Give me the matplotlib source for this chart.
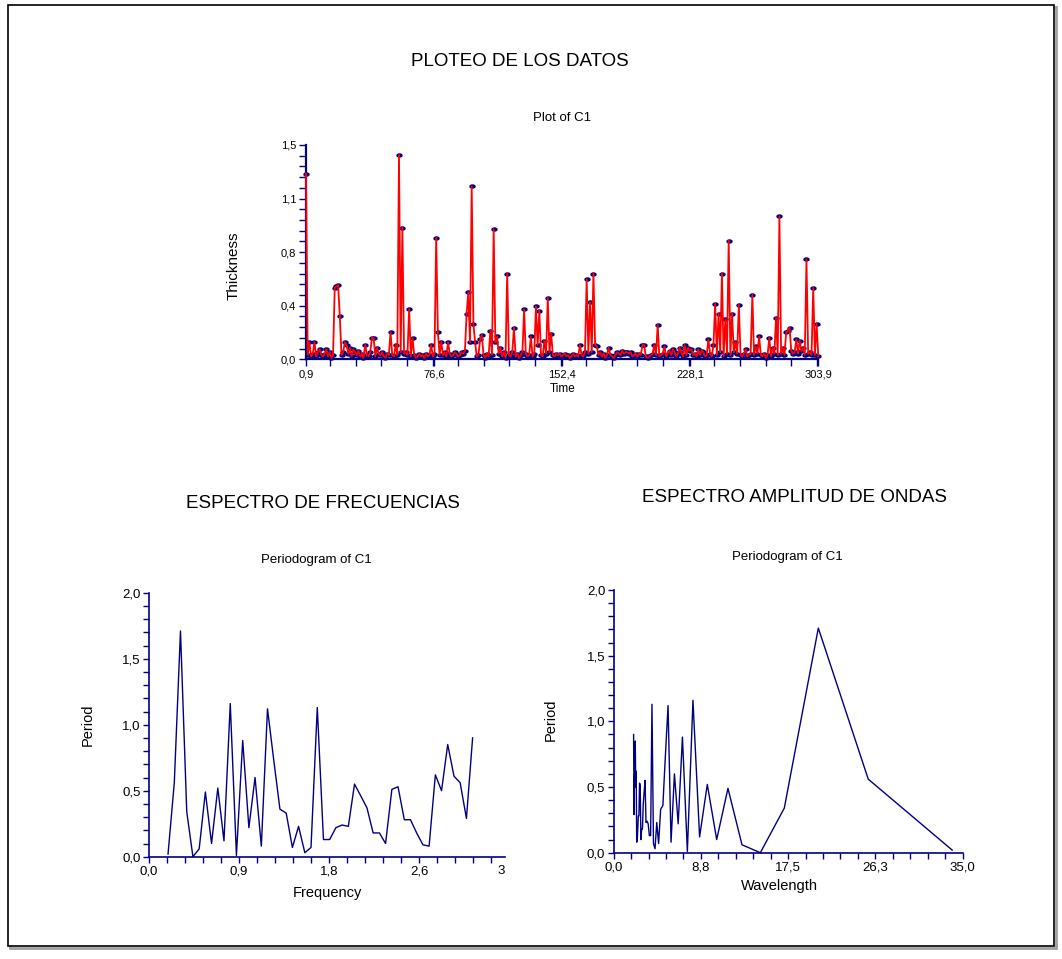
import numpy as np
import matplotlib
matplotlib.use("Agg")
import matplotlib.pyplot as plt
from matplotlib.path import Path
from matplotlib.transforms import Affine2D
from matplotlib.patches import Rectangle
from matplotlib.ticker import MultipleLocator, FixedLocator

plt.rcParams['font.family'] = ['Liberation Sans', 'DejaVu Sans']

# ---------------- data ----------------
time_start = 0.9
thickness = [
    1.30, 0.03, 0.12, 0.02, 0.04, 0.12, 0.02, 0.05, 0.07, 0.03,
    0.02, 0.04, 0.07, 0.02, 0.05, 0.01, 0.03, 0.50, 0.51, 0.52,
    0.30, 0.03, 0.05, 0.12, 0.10, 0.04, 0.08, 0.02, 0.07, 0.05,
    0.03, 0.06, 0.02, 0.04, 0.01, 0.10, 0.03, 0.02, 0.05, 0.15,
    0.15, 0.02, 0.08, 0.04, 0.03, 0.05, 0.02, 0.01, 0.04, 0.03,
    0.19, 0.03, 0.02, 0.10, 0.03, 1.43, 0.05, 0.92, 0.04, 0.05,
    0.03, 0.35, 0.02, 0.15, 0.03, 0.01, 0.02, 0.04, 0.02, 0.03,
    0.01, 0.04, 0.02, 0.03, 0.10, 0.02, 0.04, 0.85, 0.19, 0.03,
    0.12, 0.03, 0.05, 0.02, 0.12, 0.04, 0.02, 0.03, 0.05, 0.04,
    0.02, 0.03, 0.05, 0.04, 0.06, 0.32, 0.47, 0.12, 1.21, 0.25,
    0.12, 0.02, 0.03, 0.14, 0.17, 0.03, 0.01, 0.04, 0.02, 0.20,
    0.03, 0.91, 0.12, 0.16, 0.04, 0.08, 0.02, 0.05, 0.01, 0.60,
    0.03, 0.02, 0.05, 0.22, 0.02, 0.04, 0.01, 0.03, 0.05, 0.35,
    0.04, 0.02, 0.03, 0.16, 0.02, 0.04, 0.37, 0.10, 0.34, 0.03,
    0.02, 0.13, 0.04, 0.43, 0.05, 0.18, 0.03, 0.02, 0.04, 0.03,
    0.04, 0.02, 0.03, 0.04, 0.02, 0.03, 0.01, 0.02, 0.04, 0.02,
    0.03, 0.02, 0.10, 0.03, 0.02, 0.05, 0.56, 0.04, 0.40, 0.05,
    0.60, 0.10, 0.09, 0.03, 0.05, 0.02, 0.04, 0.01, 0.03, 0.08,
    0.03, 0.02, 0.01, 0.03, 0.05, 0.04, 0.03, 0.06, 0.04, 0.05,
    0.05, 0.04, 0.05, 0.02, 0.03, 0.04, 0.02, 0.04, 0.03, 0.10,
    0.10, 0.02, 0.01, 0.02, 0.03, 0.04, 0.10, 0.03, 0.24, 0.02,
    0.03, 0.04, 0.09, 0.02, 0.04, 0.06, 0.03, 0.07, 0.05, 0.02,
    0.04, 0.08, 0.05, 0.02, 0.10, 0.03, 0.08, 0.06, 0.07, 0.03,
    0.04, 0.02, 0.07, 0.03, 0.06, 0.05, 0.02, 0.03, 0.14, 0.04,
    0.02, 0.10, 0.39, 0.03, 0.32, 0.05, 0.60, 0.02, 0.28, 0.04,
    0.83, 0.03, 0.32, 0.05, 0.12, 0.04, 0.38, 0.03, 0.02, 0.04,
    0.07, 0.02, 0.03, 0.04, 0.45, 0.03, 0.09, 0.04, 0.16, 0.03,
    0.02, 0.04, 0.01, 0.03, 0.15, 0.02, 0.08, 0.04, 0.29, 0.03,
    1.00, 0.04, 0.08, 0.03, 0.19, 0.20, 0.22, 0.06, 0.04, 0.05,
    0.14, 0.04, 0.13, 0.06, 0.08, 0.03, 0.70, 0.04, 0.05, 0.03,
    0.50, 0.03, 0.25, 0.02,
]
time = time_start + np.arange(len(thickness))

frequency = [
    0.185, 0.246, 0.306, 0.367, 0.427, 0.488, 0.548, 0.608, 0.669, 0.729,
    0.790, 0.850, 0.911, 0.971, 1.031, 1.092, 1.152, 1.213, 1.273, 1.334,
    1.394, 1.454, 1.515, 1.575, 1.636, 1.696, 1.756, 1.817, 1.877, 1.938,
    1.998, 2.059, 2.119, 2.179, 2.240, 2.300, 2.361, 2.421, 2.482, 2.542,
    2.602, 2.663, 2.723, 2.784, 2.844, 2.904, 2.965, 3.025, 3.086, 3.146,
]
periodogram = [
    0.02, 0.56, 1.71, 0.34, 0.00, 0.06, 0.49, 0.10, 0.52, 0.12,
    1.16, 0.01, 0.88, 0.22, 0.60, 0.08, 1.12, 0.73, 0.36, 0.33,
    0.07, 0.23, 0.03, 0.07, 1.13, 0.13, 0.13, 0.22, 0.24, 0.23,
    0.55, 0.46, 0.37, 0.18, 0.18, 0.10, 0.51, 0.53, 0.28, 0.28,
    0.18, 0.09, 0.08, 0.62, 0.50, 0.85, 0.61, 0.56, 0.29, 0.90,
]
wavelength = [2 * np.pi / f for f in frequency]

time_ticks = [0.9, 76.65, 152.4, 228.15, 303.9]
time_labels = ["0,9", "76,6", "152,4", "228,1", "303,9"]
thick_ticks = [0.0, 0.375, 0.75, 1.125, 1.5]
thick_labels = ["0,0", "0,4", "0,8", "1,1", "1,5"]
period_ticks = [0.0, 0.5, 1.0, 1.5, 2.0]
period_labels = ["0,0", "0,5", "1,0", "1,5", "2,0"]
freq_ticks = [0.0, 0.875, 1.75, 2.625, 3.42]
freq_labels = ["0,0", "0,9", "1,8", "2,6", "3"]
wave_ticks = [0.0, 8.75, 17.5, 26.25, 35.0]
wave_labels = ["0,0", "8,8", "17,5", "26,3", "35,0"]

# ---------------- figure ----------------
W, H = 1062, 959
fig = plt.figure(figsize=(W / 100, H / 100), dpi=100)
fig.patch.set_facecolor("white")

NAVY = "#000080"


def px_axes(x0, y0, x1, y1):
    ax = fig.add_axes([x0 / W, 1 - y1 / H, (x1 - x0) / W, (y1 - y0) / H])
    ax.set_zorder(5)
    return ax


def ftext(x, y, s, size, **kw):
    fig.text(x / W, 1 - y / H, s, fontsize=size, ha="center", va="center", **kw)


def style_axes(ax, lw, labsize):
    for side in ("top", "right"):
        ax.spines[side].set_visible(False)
    for side in ("left", "bottom"):
        ax.spines[side].set_color(NAVY)
        ax.spines[side].set_linewidth(lw)
    ax.tick_params(which="both", direction="out", color=NAVY, width=1.0,
                   length=4, labelsize=labsize, labelcolor="black", pad=2)
    ax.set_facecolor("none")


# outer frame with a light drop shadow
fig.patches.append(Rectangle((10 / W, 1 - 948 / H), 1046 / W, 941 / H,
                             transform=fig.transFigure, fill=False,
                             edgecolor="#a0a0a0", linewidth=2.0, zorder=0))
fig.patches.append(Rectangle((8 / W, 1 - 946 / H), 1046 / W, 941 / H,
                             transform=fig.transFigure, fill=True,
                             facecolor="white", edgecolor="black",
                             linewidth=1.2, zorder=1))

# ---- top: thickness vs time ----
ax1 = px_axes(306, 145, 818.3, 359.3)
style_axes(ax1, 1.6, 8)
ellipse = Path.unit_circle().transformed(Affine2D().scale(1.4, 0.85))
ax1.plot(time, thickness, linestyle="none", marker=ellipse, markersize=3.6,
         markerfacecolor=NAVY, markeredgecolor=NAVY, clip_on=False, zorder=3)
ax1.plot(time, thickness, color="#ff0000", linewidth=1.3, clip_on=False, zorder=4)
ax1.set_xlim(0.9, 303.9)
ax1.set_ylim(0, 1.5)
ax1.xaxis.set_major_locator(FixedLocator(time_ticks))
ax1.set_xticklabels(time_labels)
ax1.xaxis.set_minor_locator(MultipleLocator(75.75 / 5))
ax1.yaxis.set_major_locator(FixedLocator(thick_ticks))
ax1.set_yticklabels(thick_labels)
ax1.yaxis.set_minor_locator(MultipleLocator(0.075))
ax1.tick_params(which="both", length=5)

ftext(520, 62, "PLOTEO DE LOS DATOS", 13.5)
ftext(562, 118, "Plot of C1", 9.5)
ftext(234, 266, "Thickness", 11, rotation=90)
ftext(563, 389, "Time", 8.5)

# ---- bottom left: periodogram vs frequency ----
ax2 = px_axes(149, 592.7, 504.7, 856.7)
style_axes(ax2, 1.2, 9.5)
ax2.plot(frequency, periodogram, color=NAVY, linewidth=1.0, clip_on=False)
ax2.set_xlim(0, 3.458)
ax2.set_ylim(0, 2.0)
ax2.xaxis.set_major_locator(FixedLocator(freq_ticks))
ax2.set_xticklabels(freq_labels)
ax2.xaxis.set_minor_locator(FixedLocator([0.175 * k for k in range(1, 20)]))
ax2.xaxis.get_major_ticks()[-1].tick1line.set_visible(False)
ax2.yaxis.set_major_locator(FixedLocator(period_ticks))
ax2.set_yticklabels(period_labels)
ax2.yaxis.set_minor_locator(MultipleLocator(0.1))

ftext(323, 503, "ESPECTRO DE FRECUENCIAS", 13.5)
ftext(316, 560, "Periodogram of C1", 9.5)
ftext(88, 725, "Period", 10.5, rotation=90)
ftext(327, 893, "Frequency", 10.5)

# ---- bottom right: periodogram vs wavelength ----
ax3 = px_axes(613.7, 590, 962.5, 852.7)
style_axes(ax3, 1.2, 9.5)
ax3.plot(wavelength, periodogram, color=NAVY, linewidth=1.0, clip_on=False)
ax3.set_xlim(0, 35)
ax3.set_ylim(0, 2.0)
ax3.xaxis.set_major_locator(FixedLocator(wave_ticks))
ax3.set_xticklabels(wave_labels)
ax3.xaxis.set_minor_locator(MultipleLocator(1.75))
ax3.yaxis.set_major_locator(FixedLocator(period_ticks))
ax3.set_yticklabels(period_labels)
ax3.yaxis.set_minor_locator(MultipleLocator(0.1))

ftext(795, 497, "ESPECTRO AMPLITUD DE ONDAS", 13.5)
ftext(787, 557, "Periodogram of C1", 9.5)
ftext(551, 720, "Period", 10.5, rotation=90)
ftext(779, 886, "Wavelength", 10.5)

fig.savefig("out.png", dpi=100)
